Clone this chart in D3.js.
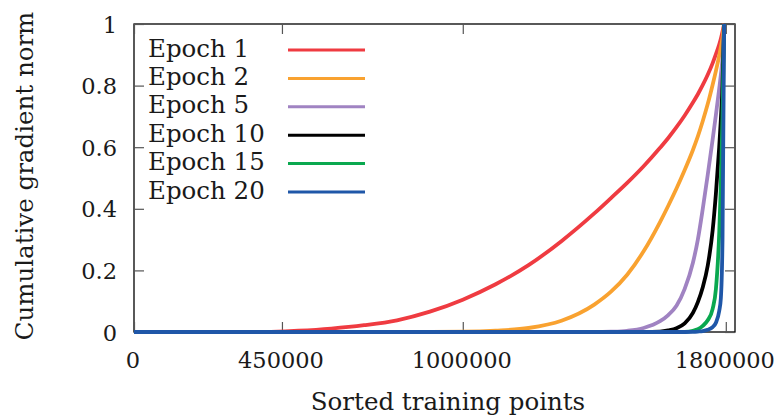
<!DOCTYPE html>
<html>
<head>
<meta charset="utf-8">
<script src="https://cdn.jsdelivr.net/npm/d3@7/dist/d3.min.js"></script>
<style>
  html, body { margin: 0; padding: 0; background: #fff; }
  svg { display: block; }
  text { font-family: "DejaVu Serif", serif; fill: #1a1a1a; }
</style>
</head>
<body>
<svg id="chart" width="776" height="417"></svg>
<script>
// Sorted training points (x grid)
const xPoints = [0, 400000, 500000, 600000, 700000, 800000, 900000, 1000000, 1100000, 1200000,
  1300000, 1400000, 1450000, 1500000, 1550000, 1600000, 1625000, 1650000, 1675000, 1700000,
  1715000, 1730000, 1745000, 1760000, 1770000, 1780000, 1785000, 1790000, 1795000];

const epoch1  = [0, 0, 0.004, 0.011, 0.022, 0.038, 0.066, 0.105, 0.155, 0.217,
  0.295, 0.385, 0.434, 0.484, 0.538, 0.598, 0.630, 0.665, 0.703, 0.745,
  0.772, 0.802, 0.835, 0.873, 0.902, 0.933, 0.952, 0.975, 1.0];
const epoch2  = [0, 0, 0, 0, 0, 0, 0.0003, 0.001, 0.0045, 0.013,
  0.0365, 0.089, 0.130, 0.186, 0.262, 0.357, 0.410, 0.466, 0.526, 0.591,
  0.635, 0.685, 0.740, 0.803, 0.848, 0.897, 0.925, 0.955, 1.0];
const epoch5  = [0, 0, 0, 0, 0, 0, 0, 0, 0, 0,
  0, 0, 0.001, 0.004, 0.013, 0.035, 0.055, 0.085, 0.14, 0.225,
  0.30, 0.40, 0.51, 0.625, 0.705, 0.79, 0.835, 0.89, 1.0];
const epoch10 = [0, 0, 0, 0, 0, 0, 0, 0, 0, 0,
  0, 0, 0, 0, 0, 0.001, 0.005, 0.012, 0.028, 0.062,
  0.097, 0.145, 0.215, 0.33, 0.45, 0.60, 0.69, 0.80, 1.0];
const epoch15 = [0, 0, 0, 0, 0, 0, 0, 0, 0, 0,
  0, 0, 0, 0, 0, 0, 0, 0, 0.0005, 0.004,
  0.009, 0.02, 0.038, 0.075, 0.14, 0.32, 0.48, 0.70, 1.0];
const epoch20 = [0, 0, 0, 0, 0, 0, 0, 0, 0, 0,
  0, 0, 0, 0, 0, 0, 0, 0, 0, 0.0005,
  0.0015, 0.003, 0.007, 0.016, 0.03, 0.068, 0.11, 0.30, 1.0];

const seriesNames = ["Epoch 1", "Epoch 2", "Epoch 5", "Epoch 10", "Epoch 15", "Epoch 20"];
const seriesValues = [epoch1, epoch2, epoch5, epoch10, epoch15, epoch20];
const seriesColors = ["#ef3b41", "#f9a230", "#a083c2", "#000000", "#0aa84f", "#1f57a8"];

const xTicks = [0, 450000, 1000000, 1800000];
const yTicks = [0, 0.2, 0.4, 0.6, 0.8, 1];

const svg = d3.select("#chart");
const L = 134, R = 735, T = 24, B = 332;

const x = d3.scaleLinear().domain([0, 1828000]).range([L, R]);
const y = d3.scaleLinear().domain([0, 1]).range([B, T]);

// frame
svg.append("rect").attr("x", L).attr("y", T).attr("width", R - L).attr("height", B - T)
  .attr("fill", "none").attr("stroke", "#000").attr("stroke-width", 1.3);

function styleAxis(g) {
  g.select(".domain").remove();
  g.selectAll(".tick line").attr("stroke", "#555").attr("stroke-width", 1.2);
  g.selectAll(".tick text").style("font-family", "'DejaVu Serif', serif")
    .style("font-size", "22.5px").attr("fill", "#1a1a1a");
}

svg.append("g").attr("transform", `translate(0,${B})`)
  .call(d3.axisBottom(x).tickValues(xTicks).tickSizeInner(-10).tickSizeOuter(0)
    .tickPadding(20).tickFormat(d3.format("d")))
  .call(styleAxis)
  .call(g => g.selectAll(".tick text").attr("dx", "-1.5"));

svg.append("g").attr("transform", `translate(0,${T})`)
  .call(d3.axisTop(x).tickValues(xTicks).tickSizeInner(-10).tickSizeOuter(0).tickFormat(""))
  .call(styleAxis);

svg.append("g").attr("transform", `translate(${L},0)`)
  .call(d3.axisLeft(y).tickValues(yTicks).tickSizeInner(-10).tickSizeOuter(0)
    .tickPadding(17).tickFormat(d => String(d)))
  .call(styleAxis)
  .call(g => g.selectAll(".tick text").attr("dy", "0.36em"));

svg.append("g").attr("transform", `translate(${R},0)`)
  .call(d3.axisRight(y).tickValues(yTicks).tickSizeInner(-10).tickSizeOuter(0).tickFormat(""))
  .call(styleAxis);

// curves
const line = d3.line()
  .x(d => x(d[0]))
  .y(d => y(d[1]))
  .curve(d3.curveMonotoneX);

seriesValues.forEach((vals, i) => {
  const pts = xPoints.map((xv, j) => [xv, vals[j]]);
  svg.append("path").datum(pts)
    .attr("d", line)
    .attr("fill", "none")
    .attr("stroke", seriesColors[i])
    .attr("stroke-width", 3.8)
    .attr("stroke-linejoin", "round");
});

// legend
const lg = svg.append("g");
seriesNames.forEach((name, i) => {
  const ly = 50 + i * 28.4;
  lg.append("text").attr("x", 148).attr("y", ly + 6.5)
    .style("font-size", "24.5px").text(name);
  lg.append("line").attr("x1", 288).attr("x2", 365).attr("y1", ly).attr("y2", ly)
    .attr("stroke", seriesColors[i]).attr("stroke-width", 3);
});

// axis titles
svg.append("text").attr("x", 448).attr("y", 410).attr("text-anchor", "middle")
  .style("font-size", "24.5px").text("Sorted training points");
svg.append("text").attr("transform", "translate(33,176) rotate(-90)")
  .attr("text-anchor", "middle")
  .style("font-size", "24.5px").text("Cumulative gradient norm");
</script>
</body>
</html>
